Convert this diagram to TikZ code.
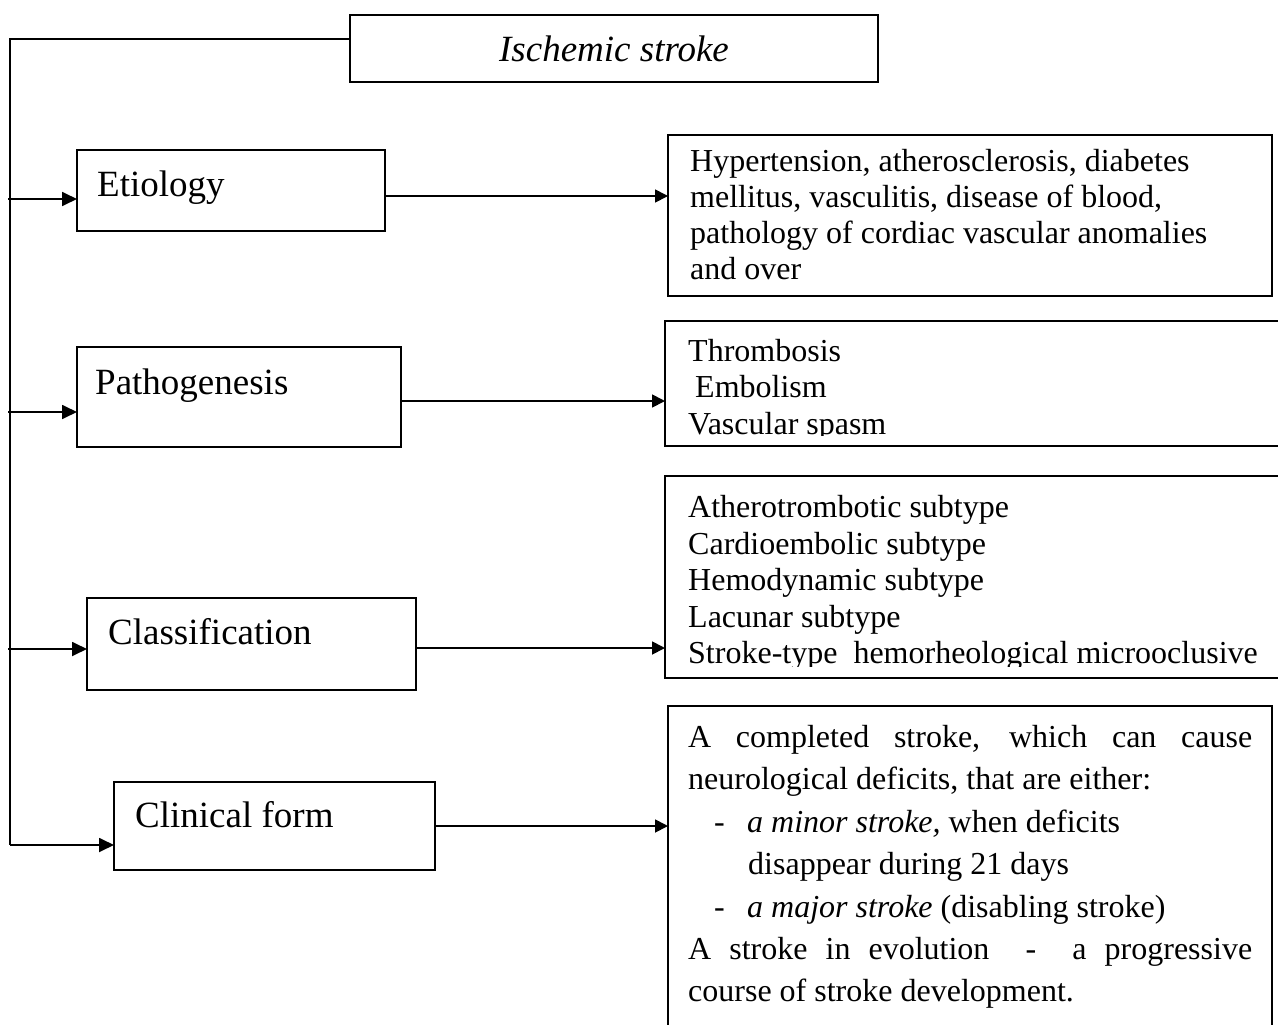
\documentclass[tikz,border=0pt]{standalone}
\usepackage{fontspec}
\setmainfont{Liberation Serif}
\usetikzlibrary{arrows.meta,calc}
\begin{document}
\begin{tikzpicture}[x=1pt,y=-1pt,
  box/.style={draw, line width=1.7pt, inner sep=0pt, outer sep=0pt, anchor=north west},
  lbl/.style={anchor=base west, inner sep=0pt, font=\fontsize{37}{42}\selectfont},
  txt/.style={anchor=base west, inner sep=0pt, font=\fontsize{32}{36.5}\selectfont},
  link/.style={line width=1.8pt},
  arr/.style={link, -{Triangle[length=15pt,width=14pt]}},
  arrR/.style={link, -{Triangle[length=13pt,width=13pt]}}]
\useasboundingbox (0,0) rectangle (1278,1025);
\clip (0,0) rectangle (1278,1025);

% --- boxes ---
\node[box, minimum width=528pt, minimum height=67pt]  (top) at (350,15)  {};
\node[box, minimum width=308pt, minimum height=81pt]  (eti) at (77,150)  {};
\node[box, minimum width=324pt, minimum height=100pt] (pat) at (77,347)  {};
\node[box, minimum width=329pt, minimum height=92pt]  (cla) at (87,598)  {};
\node[box, minimum width=321pt, minimum height=88pt]  (cli) at (114,782) {};
\node[box, minimum width=604pt, minimum height=161pt] (r1)  at (668,135) {};
\node[box, minimum width=640pt, minimum height=125pt] (r2)  at (665,321) {};
\node[box, minimum width=640pt, minimum height=202pt] (r3)  at (665,476) {};
\node[box, minimum width=604pt, minimum height=360pt] (r4)  at (668,706) {};

% --- headings ---
\node[inner sep=0pt, font=\itshape\fontsize{37}{42}\selectfont] (ttl) at (top.center) {Ischemic stroke};
\node[lbl] (etiT) at (97,196)  {Etiology};
\node[lbl] (patT) at (95,394)  {Pathogenesis};
\node[lbl] (claT) at (108,644) {Classification};
\node[lbl] (cliT) at (135,827) {Clinical form};

% --- trunk and branches ---
\coordinate (trunkTop) at (10,39);
\coordinate (trunkBot) at (10,845);
\coordinate (y1) at (8,199);
\coordinate (y2) at (8,412);
\coordinate (y3) at (8,649);
\draw[link] (top.west |- trunkTop) -- (trunkTop) -- (trunkBot);
\draw[arr] (y1) -- (eti.west |- y1);
\draw[arr] (y2) -- (pat.west |- y2);
\draw[arr] (y3) -- (cla.west |- y3);
\draw[arr] (trunkBot) -- (cli.west |- trunkBot);

% --- links to detail boxes ---
\coordinate (z1) at (0,196);
\coordinate (z2) at (0,401);
\coordinate (z3) at (0,648);
\coordinate (z4) at (0,826);
\draw[arrR] (eti.east |- z1) -- (r1.west |- z1);
\draw[arrR] (pat.east |- z2) -- (r2.west |- z2);
\draw[arrR] (cla.east |- z3) -- (r3.west |- z3);
\draw[arrR] (cli.east |- z4) -- (r4.west |- z4);

% --- etiology details ---
\node[txt] (a1) at (690,171) {Hypertension, atherosclerosis, diabetes};
\node[txt] (a2) at (690,207) {mellitus, vasculitis, disease of blood,};
\node[txt] (a3) at (690,243) {pathology of cordiac vascular anomalies};
\node[txt] (a4) at (690,279) {and over};

% --- pathogenesis details ---
\begin{scope}
\clip (r2.north west) rectangle ($(r2.south east)+(0,-11)$);
\node[txt] (b1) at (688,361) {Thrombosis};
\node[txt] (b2) at (695,397) {Embolism};
\node[txt] (b3) at (688,434) {Vascular spasm};
\end{scope}

% --- classification details ---
\begin{scope}
\clip (r3.north west) rectangle ($(r3.south east)+(0,-12)$);
\node[txt] (c1) at (688,517) {Atherotrombotic subtype};
\node[txt] (c2) at (688,554) {Cardioembolic subtype};
\node[txt] (c3) at (688,590) {Hemodynamic subtype};
\node[txt] (c4) at (688,627) {Lacunar subtype};
\node[txt] (c5) at (688,663) {Stroke-type~ hemorheological microoclusive};
\end{scope}

% --- clinical form details ---
\node[txt] (d1) at (688,747) {\makebox[564pt][s]{A completed stroke, which can cause}};
\node[txt] (d2) at (688,789) {neurological deficits, that are either:};
\node[txt] (d3m) at (714,832) {-};
\node[txt] (d3) at (747,832) {\textit{a minor stroke,} when deficits};
\node[txt] (d4) at (748,874) {disappear during 21 days};
\node[txt] (d5m) at (714,917) {-};
\node[txt] (d5) at (747,917) {\textit{a major stroke} (disabling stroke)};
\node[txt] (d6) at (688,959) {\makebox[564pt][s]{A stroke in evolution~ - ~a progressive}};
\node[txt] (d7) at (688,1001) {course of stroke development.};
\end{tikzpicture}
\end{document}
